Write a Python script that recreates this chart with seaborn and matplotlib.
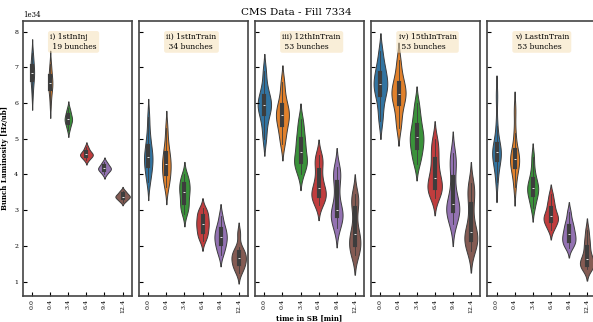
import numpy as np
import pandas as pd
import seaborn as sns
import matplotlib.pyplot as plt

# time in stable beams [min]
times = ['0.0', '0.4', '3.4', '6.4', '9.4', '12.4']

# bunch luminosity samples per time step, in units of 1e34 Hz/ub
first_in_inj = [
    [6.2, 6.45, 6.6, 6.7, 6.78, 6.85, 6.92, 7.0, 7.1, 7.25, 7.4],
    [5.95, 6.2, 6.35, 6.45, 6.5, 6.55, 6.62, 6.7, 6.8, 6.95, 7.1],
    [5.25, 5.35, 5.42, 5.48, 5.52, 5.55, 5.58, 5.63, 5.7, 5.77, 5.85],
    [4.4, 4.45, 4.5, 4.52, 4.54, 4.56, 4.58, 4.61, 4.65, 4.7, 4.78],
    [4.0, 4.06, 4.1, 4.13, 4.15, 4.17, 4.19, 4.22, 4.26, 4.3, 4.36],
    [3.24, 3.28, 3.32, 3.35, 3.37, 3.38, 3.40, 3.43, 3.46, 3.5, 3.55],
]
first_in_train = [
    [3.8, 4.0, 4.15, 4.3, 4.4, 4.48, 4.58, 4.72, 4.9, 5.15, 5.6],
    [3.65, 3.82, 3.95, 4.08, 4.2, 4.3, 4.4, 4.52, 4.68, 4.9, 5.3],
    [2.9, 3.05, 3.13, 3.25, 3.4, 3.5, 3.58, 3.68, 3.77, 3.88, 4.0],
    [2.15, 2.28, 2.35, 2.45, 2.55, 2.62, 2.68, 2.78, 2.88, 2.95, 3.05],
    [1.75, 1.9, 2.0, 2.1, 2.18, 2.25, 2.32, 2.42, 2.5, 2.62, 2.85],
    [1.25, 1.38, 1.45, 1.52, 1.6, 1.67, 1.72, 1.8, 1.85, 1.98, 2.35],
]
twelfth_in_train = [
    [5.0, 5.35, 5.61, 5.75, 5.88, 5.94, 6.02, 6.15, 6.26, 6.5, 6.9],
    [4.85, 5.1, 5.3, 5.45, 5.58, 5.66, 5.75, 5.88, 6.0, 6.25, 6.6],
    [4.0, 4.2, 4.3, 4.38, 4.45, 4.62, 4.78, 4.92, 5.08, 5.3, 5.55],
    [3.15, 3.28, 3.37, 3.45, 3.52, 3.62, 3.78, 3.98, 4.25, 4.4, 4.55],
    [2.5, 2.65, 2.81, 2.88, 2.95, 3.01, 3.3, 3.65, 3.94, 4.05, 4.2],
    [1.75, 1.85, 1.95, 2.1, 2.2, 2.32, 2.45, 2.9, 3.22, 3.3, 3.45],
]
fifteenth_in_train = [
    [5.5, 5.85, 6.15, 6.3, 6.45, 6.52, 6.62, 6.78, 6.93, 7.1, 7.45],
    [5.3, 5.6, 5.87, 6.05, 6.18, 6.26, 6.35, 6.5, 6.62, 6.85, 7.2],
    [4.3, 4.5, 4.67, 4.8, 4.95, 5.04, 5.15, 5.3, 5.49, 5.7, 6.0],
    [3.35, 3.5, 3.57, 3.65, 3.78, 3.9, 4.05, 4.3, 4.55, 4.75, 5.0],
    [2.6, 2.8, 2.94, 3.02, 3.1, 3.18, 3.35, 3.7, 4.15, 4.35, 4.6],
    [1.85, 2.0, 2.13, 2.22, 2.3, 2.39, 2.6, 3.0, 3.37, 3.55, 3.75],
]
last_in_train = [
    [3.8, 4.15, 4.35, 4.48, 4.56, 4.62, 4.68, 4.78, 4.92, 5.35, 6.2],
    [3.65, 4.0, 4.15, 4.28, 4.37, 4.43, 4.5, 4.6, 4.75, 5.15, 5.8],
    [3.05, 3.25, 3.38, 3.48, 3.56, 3.62, 3.7, 3.8, 3.92, 4.15, 4.5],
    [2.45, 2.58, 2.66, 2.72, 2.78, 2.83, 2.9, 3.0, 3.13, 3.25, 3.45],
    [1.95, 2.05, 2.1, 2.18, 2.25, 2.32, 2.4, 2.5, 2.6, 2.72, 2.95],
    [1.35, 1.42, 1.45, 1.5, 1.56, 1.62, 1.72, 1.88, 2.04, 2.2, 2.45],
]

panels = [first_in_inj, first_in_train, twelfth_in_train, fifteenth_in_train, last_in_train]
labels = ['i) 1stInInj\n 19 bunches', 'ii) 1stInTrain\n 34 bunches',
          'iii) 12thInTrain\n 53 bunches', 'iv) 15thInTrain\n 53 bunches',
          'v) LastInTrain\n 53 bunches']
bw_adj = [0.9, 0.8, 0.73, 0.73, 0.73]  # narrower kernels for bigger trains

plt.rcParams['font.family'] = ['DejaVu Serif']
plt.rcParams['axes.edgecolor'] = '#444444'
plt.rcParams['axes.linewidth'] = 1.2
plt.rcParams['xtick.direction'] = 'in'
plt.rcParams['ytick.direction'] = 'in'

fig, axes = plt.subplots(1, 5, sharey=True, figsize=(5.93, 3.22), dpi=100)
fig.subplots_adjust(left=0.039, right=1.005, top=0.935, bottom=0.081, wspace=0.07)

for ax, groups, lab, bw in zip(axes, panels, labels, bw_adj):
    df = pd.DataFrame({'time': np.repeat(times, [len(g) for g in groups]),
                       'lumi': np.concatenate(groups) * 1e34})
    sns.violinplot(data=df, x='time', y='lumi', hue='time', palette='tab10',
                   legend=False, ax=ax, linewidth=0.7, order=times, bw_adjust=bw,
                   common_norm=True,
                   inner_kws=dict(box_width=3, whis_width=0.6, markersize=1.3))
    ax.text(0.25, 0.955, lab, transform=ax.transAxes, fontsize=5.5, va='top', ha='left',
            bbox=dict(boxstyle='round', facecolor='wheat', alpha=0.5, edgecolor='none'))
    ax.set_xlabel('')
    ax.set_ylabel('')
    ax.tick_params(axis='x', labelrotation=90, labelsize=4.5, length=3, pad=2)
    ax.tick_params(axis='y', labelsize=4.5, length=3)

axes[0].set_ylim(0.6e34, 8.3e34)
axes[0].set_yticks(np.arange(1, 9) * 1e34)
axes[0].yaxis.get_offset_text().set_fontsize(5)
axes[0].set_ylabel('Bunch Luminosity [Hz/ub]', fontsize=5, fontweight='bold')
axes[2].set_xlabel('time in SB [min]', fontsize=5, fontweight='bold', labelpad=1)
fig.suptitle('CMS Data - Fill 7334', fontsize=7.5, y=0.975)

plt.savefig('out.png', dpi=100)
